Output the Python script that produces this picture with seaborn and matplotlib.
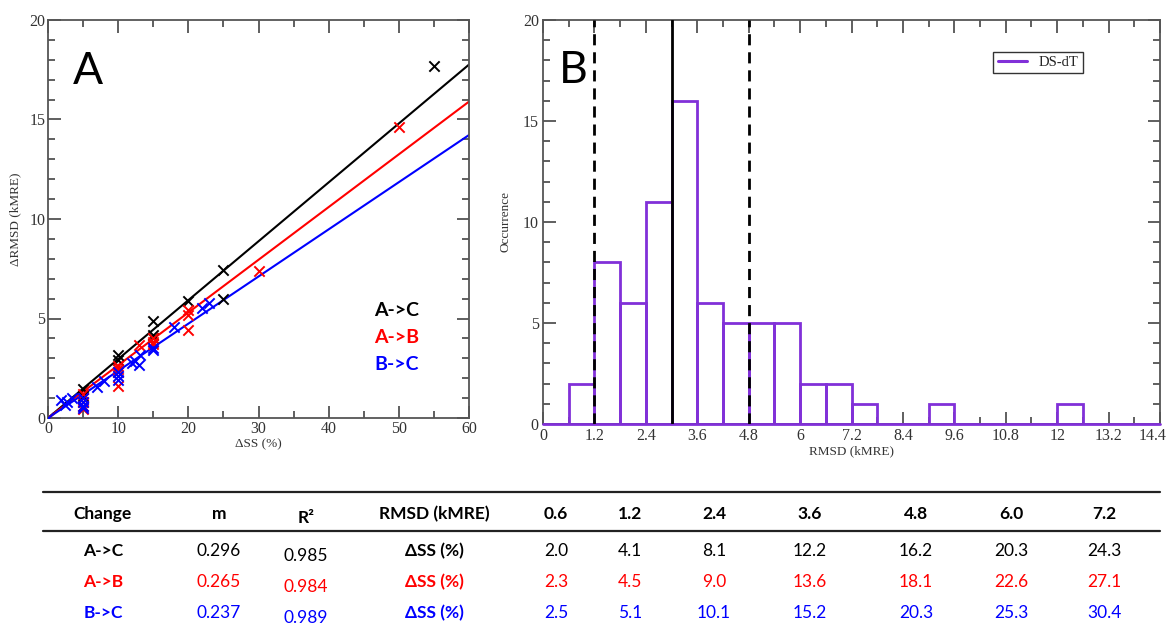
import numpy as np
import pandas as pd
import matplotlib
matplotlib.use("Agg")
import matplotlib.pyplot as plt
import matplotlib.transforms as mtransforms
import seaborn as sns
from matplotlib.ticker import MultipleLocator, FixedLocator, FixedFormatter
from matplotlib.lines import Line2D

# ---------------- data ----------------
# Panel A: change in RMSD vs change in secondary structure
ac_x = [0, 5, 5, 10, 10, 15, 15, 15, 20, 25, 25, 55]
ac_y = [0, 1.45, 1.1, 3.15, 2.9, 4.85, 4.15, 4.0, 5.9, 7.45, 6.0, 17.7]
ab_x = [0, 5, 5, 5, 5, 5, 10, 10, 10, 10, 13, 15, 15, 15, 20, 20, 20, 30, 50]
ab_y = [0, 1.2, 1.0, 0.8, 0.6, 0.45, 2.6, 2.45, 2.3, 1.6, 3.65, 4.0, 3.8, 3.7,
        5.45, 5.2, 4.4, 7.4, 14.6]
bc_x = [0, 1.8, 2.4, 2.7, 3.4, 5, 5, 5, 5, 7, 8, 10, 10, 10, 12, 12.4, 13, 13.1,
        15, 15, 18, 22, 23]
bc_y = [0, 0.9, 0.65, 0.8, 1.0, 1.0, 0.8, 0.6, 0.5, 1.55, 1.85, 2.3, 2.1, 1.9,
        2.75, 2.85, 2.65, 3.15, 3.5, 3.4, 4.55, 5.55, 5.8]

changes = ["A->C", "A->B", "B->C"]
change_colors = ["black", "red", "blue"]
slopes = [0.296, 0.265, 0.237]
r_squared = [0.985, 0.984, 0.989]
fit_x = [0, 60]

# Panel B: RMSD histogram (bin width 0.6 kMRE over 0-14.4)
bin_width = 0.6
bin_range = (0.0, 14.4)
counts = [0, 2, 8, 6, 11, 16, 6, 5, 5, 5, 2, 2, 1, 0, 0, 1, 0, 0, 0, 0, 1, 0, 0, 0]
rmsd_mean = 3.0
rmsd_band = [1.2, 4.8]
b_xticks = [0, 1.2, 2.4, 3.6, 4.8, 6.0, 7.2, 8.4, 9.6, 10.8, 12.0, 13.2, 14.4]
b_xtick_labels = ["0", "1.2", "2.4", "3.6", "4.8", "6", "7.2", "8.4", "9.6",
                  "10.8", "12", "13.2", "14.4"]

# Table
rmsd_levels = ["0.6", "1.2", "2.4", "3.6", "4.8", "6.0", "7.2"]
dss_values = [
    [2.0, 4.1, 8.1, 12.2, 16.2, 20.3, 24.3],
    [2.3, 4.5, 9.0, 13.6, 18.1, 22.6, 27.1],
    [2.5, 5.1, 10.1, 15.2, 20.3, 25.3, 30.4],
]

# ---------------- style ----------------
sns.set_theme(style="ticks")
plt.rcParams.update({
    "font.family": ["Liberation Serif", "DejaVu Serif"],
    "xtick.direction": "in", "ytick.direction": "in",
    "xtick.top": True, "ytick.right": True,
    "xtick.major.size": 9, "ytick.major.size": 9,
    "xtick.minor.size": 5, "ytick.minor.size": 5,
    "xtick.major.width": 1.2, "ytick.major.width": 1.2,
    "xtick.minor.width": 1.2, "ytick.minor.width": 1.2,
    "xtick.color": "#444444", "ytick.color": "#444444",
    "xtick.labelcolor": "#333333", "ytick.labelcolor": "#333333",
    "axes.edgecolor": "#555555", "axes.linewidth": 1.3,
    "xtick.labelsize": 11.5, "ytick.labelsize": 11.5,
})

W, H = 1171, 628
fig = plt.figure(figsize=(W / 100, H / 100), dpi=100)
fig.patch.set_facecolor("white")


def px_rect(l, t, r, b):
    return [l / W, 1 - b / H, (r - l) / W, (b - t) / H]


# ---------------- panel A ----------------
axA = fig.add_axes(px_rect(48, 20, 469, 418))
scatter_sets = [(ac_x, ac_y), (ab_x, ab_y), (bc_x, bc_y)]
for (xs, ys), col, m in zip(scatter_sets, change_colors, slopes):
    sns.lineplot(x=fit_x, y=[m * v for v in fit_x], color=col, lw=1.5, ax=axA,
                 zorder=2)
    sns.scatterplot(x=xs, y=ys, marker="x", s=55, color=col, linewidth=1.4,
                    ax=axA, zorder=3)
axA.set_xlim(0, 60)
axA.set_ylim(0, 20)
axA.xaxis.set_major_locator(MultipleLocator(10))
axA.xaxis.set_minor_locator(MultipleLocator(5))
axA.yaxis.set_major_locator(MultipleLocator(5))
axA.yaxis.set_minor_locator(MultipleLocator(1))
axA.tick_params(axis="both", which="both", top=True, right=True,
                direction="in", pad=2)
axA.set_xlabel("\u0394SS (%)", fontsize=9.5, color="#333333", labelpad=1)
axA.set_ylabel("\u0394RMSD (kMRE)", fontsize=9.5, color="#333333", labelpad=6)
axA.text(0.058, 0.87, "A", transform=axA.transAxes, fontsize=32,
         family=["Lato", "DejaVu Sans"], color="black", va="center")
for i, (lab, col) in enumerate(zip(changes, change_colors)):
    axA.text(0.775, 0.27 - i * 0.068, lab, transform=axA.transAxes,
             fontsize=14, fontweight="bold", color=col,
             family=["Lato", "DejaVu Sans"], va="center")

# ---------------- panel B ----------------
axB = fig.add_axes(px_rect(543, 20, 1160, 424))
n_bins = len(counts)
centers = [bin_range[0] + (i + 0.5) * bin_width for i in range(n_bins)]
hist_df = pd.DataFrame({"RMSD": centers, "count": counts})
purple = "#8130D8"
sns.histplot(data=hist_df, x="RMSD", weights="count", binwidth=bin_width,
             binrange=bin_range, element="bars", fill=False, color=purple,
             linewidth=2.0, ax=axB)
# baseline of the outlined histogram (empty bins included)
axB.axhline(0, color=purple, lw=2.0, clip_on=False, zorder=4)
axB.axvline(rmsd_mean, color="black", lw=2.0, zorder=5)
for v in rmsd_band:
    axB.axvline(v, color="black", lw=2.0, ls=(0, (4, 2.5)), zorder=5)
axB.set_xlim(0, 14.4)
axB.set_ylim(0, 20)
axB.xaxis.set_major_locator(FixedLocator(b_xticks))
axB.xaxis.set_major_formatter(FixedFormatter(b_xtick_labels))
axB.xaxis.set_minor_locator(MultipleLocator(0.6))
axB.yaxis.set_major_locator(MultipleLocator(5))
axB.yaxis.set_minor_locator(MultipleLocator(1))
axB.tick_params(axis="both", which="both", top=True, right=True,
                direction="in", pad=3)
axB.set_xlabel("RMSD (kMRE)", fontsize=9.5, color="#333333", labelpad=1)
axB.set_ylabel("Occurrence", fontsize=9.5, color="#333333", labelpad=8)
axB.text(0.025, 0.875, "B", transform=axB.transAxes, fontsize=32,
         family=["Lato", "DejaVu Sans"], color="black", va="center")
handle = Line2D([], [], color=purple, lw=2.2)
axB.legend([handle], ["DS-dT"], loc="upper left", bbox_to_anchor=(0.718, 0.94),
           fancybox=False, edgecolor="#333333", framealpha=1, fontsize=10.5,
           handlelength=2.0, borderpad=0.3, handletextpad=0.8)
# keep the last tick label inside the figure edge
last_lab = axB.get_xticklabels()[-1]
last_lab.set_transform(last_lab.get_transform() +
                       mtransforms.ScaledTranslation(-7 / 100, 0,
                                                     fig.dpi_scale_trans))

# ---------------- table ----------------
axT = fig.add_axes([0, 0, 1, 1], zorder=-1)
axT.set_xlim(0, W)
axT.set_ylim(H, 0)
axT.axis("off")
tfont = ["Lato", "DejaVu Sans"]
col_x = [103, 219, 306, 434]
level_x = [556, 630, 714, 810, 916, 1011, 1104]
header_y, row_y = 514, [551, 582, 613]
axT.plot([43, 1160], [492, 492], color="#222222", lw=1.6)
axT.plot([43, 1160], [531, 531], color="#222222", lw=1.6)
fs = 12.5
for x, lab in zip(col_x, ["Change", "m", "R\u00b2", "RMSD (kMRE)"]):
    axT.text(x, header_y + (4 if lab.startswith("R\u00b2") else 0), lab,
             ha="center", va="center", fontsize=fs, fontweight="bold",
             family=tfont, color="black")
for x, lab in zip(level_x, rmsd_levels):
    axT.text(x, header_y, lab, ha="center", va="center", fontsize=fs,
             fontweight="bold", family=tfont, color="black")
for i, (lab, col) in enumerate(zip(changes, change_colors)):
    y = row_y[i]
    axT.text(col_x[0], y, lab, ha="center", va="center", fontsize=fs,
             fontweight="bold", family=tfont, color=col)
    axT.text(col_x[1], y, f"{slopes[i]:.3f}", ha="center", va="center",
             fontsize=fs, family=tfont, color=col)
    axT.text(col_x[2], y + 5, f"{r_squared[i]:.3f}", ha="center", va="center",
             fontsize=fs, family=tfont, color=col)
    axT.text(col_x[3], y, "\u0394SS (%)", ha="center", va="center", fontsize=fs,
             fontweight="bold", family=tfont, color=col)
    for x, v in zip(level_x, dss_values[i]):
        axT.text(x, y, f"{v:.1f}", ha="center", va="center", fontsize=fs,
                 family=tfont, color=col)

fig.savefig("out.png", dpi=100, facecolor="white")
